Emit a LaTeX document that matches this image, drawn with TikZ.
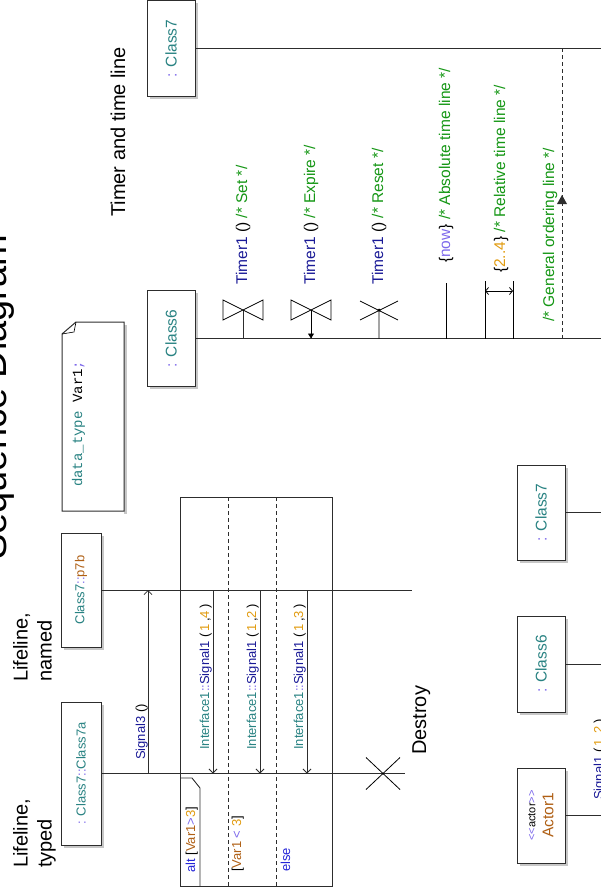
\documentclass[tikz,border=0pt]{standalone}
\usepackage{fontspec}
\setmainfont{Liberation Sans}
\setmonofont{Liberation Mono}
\usetikzlibrary{arrows.meta,shadows}
\definecolor{clsteal}{RGB}{40,130,130}
\definecolor{seppurple}{RGB}{125,105,235}
\definecolor{msgnavy}{RGB}{25,25,150}
\definecolor{cmtgreen}{RGB}{20,150,20}
\definecolor{numorange}{RGB}{225,155,15}
\definecolor{varbrown}{RGB}{175,95,20}
\definecolor{kwblue}{RGB}{35,35,215}
\definecolor{lineblack}{RGB}{45,45,45}
\newcommand{\tcls}[1]{\textcolor{clsteal}{#1}}
\newcommand{\tsep}[1]{\textcolor{seppurple}{#1}}
\newcommand{\tmsg}[1]{\textcolor{msgnavy}{#1}}
\newcommand{\tcmt}[1]{\textcolor{cmtgreen}{#1}}
\newcommand{\tnum}[1]{\textcolor{numorange}{#1}}
\newcommand{\tvar}[1]{\textcolor{varbrown}{#1}}
\newcommand{\tkw}[1]{\textcolor{kwblue}{#1}}
\newcommand{\fsbig}{\fontsize{20}{24}\selectfont}
\newcommand{\fsmid}{\fontsize{15.5}{18}\selectfont}
\newcommand{\fssmall}{\fontsize{13}{15}\selectfont}
\tikzset{
  clsbox/.style={draw=lineblack,line width=1pt,fill=white,rotate=90,minimum height=48pt,inner sep=1pt,font=\fsmid,
    drop shadow={shadow xshift=2.5pt,shadow yshift=-2.5pt,fill=black!22,opacity=1}},
  vtext/.style={rotate=90,anchor=base west,inner sep=0pt},
  life/.style={draw=lineblack,line width=1pt},
  msg/.style={draw=lineblack,line width=0.8pt,-{Straight Barb[length=4pt,width=8pt]}},
  sepline/.style={draw=lineblack,line width=0.9pt,dash pattern=on 4pt off 3pt},
}
\begin{document}
\begin{tikzpicture}[x=1pt,y=-1pt]
\useasboundingbox (0,0) rectangle (601,894);
\clip (0,0) rectangle (601,894);

\node[vtext,font=\fontsize{38}{44}\selectfont] (title) at (6,560) {Sequence Diagram};

\node[vtext,font=\fsbig] (timerlbl) at (125,217) {Timer and time line};
\node[clsbox,minimum width=96pt] (top7) at (171,48.5) {\tsep{:} \tcls{Class7}};
\node[clsbox,minimum width=96pt] (top6) at (171,338.5) {\tsep{:} \tcls{Class6}};
\coordinate (top7end) at (601,48.5);
\coordinate (top6end) at (601,338.5);
\draw[life] (top7.south) -- (top7end);
\draw[life] (top6.south) -- (top6end);

\foreach \x in {243,311} {
  \draw[life,line width=0.8pt] (\x,338.5) -- (\x,310);
  \draw[line width=0.8pt] (\x-20,300) -- (\x+20,320) -- (\x+20,300) -- (\x-20,320) -- cycle;
}
\draw[line width=0.8pt,-{Triangle[length=5pt,width=6pt]}] (311,310) -- (311,338.5);
\draw[line width=0.8pt] (379,338.5) -- (379,310) (360,301) -- (398,320) (360,320) -- (398,301);
\fill (379,310) circle (1.5);
\draw[line width=0.8pt] (446,338.5) -- (446,283);
\draw[line width=0.8pt] (485,338.5) -- (485,281) (513,338.5) -- (513,281);
\draw[line width=0.8pt,{Straight Barb[length=3pt,width=7pt]}-{Straight Barb[length=3pt,width=7pt]}] (485,291) -- (513,291);
\draw[sepline] (562,338.5) -- (562,48.5);
\fill[lineblack] (562,195) -- (567,204) -- (557,204) -- cycle;

\node[vtext,font=\fsmid] (setlbl) at (247,285) {\tmsg{Timer1} () \tcmt{/* Set */}};
\node[vtext,font=\fsmid] (explbl) at (315,285) {\tmsg{Timer1} () \tcmt{/* Expire */}};
\node[vtext,font=\fsmid] (reslbl) at (383,285) {\tmsg{Timer1} () \tcmt{/* Reset */}};
\node[vtext,font=\fsmid] (nowlbl) at (450,263) {\{\tsep{now}\} \tcmt{/* Absolute time line */}};
\node[vtext,font=\fsmid] (rellbl) at (505,273) {\{\tnum{2..4}\} \tcmt{/* Relative time line */}};
\node[vtext,font=\fsmid] (genlbl) at (554,322) {\tcmt{/* General ordering line */}};

\node[rotate=90,anchor=north west,align=left,inner sep=0pt,font=\fsbig] (typedlbl) at (13,868) {Lifeline,\\typed};
\node[rotate=90,anchor=north west,align=left,inner sep=0pt,font=\fsbig] (namedlbl) at (13,682) {Lifeline,\\named};
\node[vtext,font=\fsbig] (destlbl) at (426,755) {Destroy};

\fill[black!22] (124,325) rectangle (127,514);
\draw[life,fill=white] (62,334) -- (76,322) -- (124,322) -- (124,511) -- (62,511) -- cycle;
\draw[line width=0.6pt] (76,322) -- (74,332) -- (62,334);
\node[vtext,font=\ttfamily\fontsize{14}{16}\selectfont] (decl) at (82,487) {\tcls{data\_type} Var1\tsep{;}};

\node[clsbox,minimum width=143pt,minimum height=40pt,font=\fssmall] (cls7a) at (81,773.5) {\tsep{:} \tcls{Class7}\tsep{::}\tcls{Class7a}};
\node[clsbox,minimum width=114pt,minimum height=40pt,font=\fssmall] (p7b) at (81,590) {\tcls{Class7}\tsep{::}\tvar{p7b}};
\coordinate (c7aend) at (405,773.5);
\coordinate (p7bend) at (412,590);
\draw[life] (cls7a.south) -- (c7aend);
\draw[life] (p7b.south) -- (p7bend);
\coordinate (kill) at (383,773.5);
\draw[line width=0.8pt] (kill) +(-17,-16) -- +(17,16) (kill) +(-17,16) -- +(17,-16);

\coordinate (s3from) at (148,773.5);
\coordinate (s3to) at (148,590);
\draw[msg] (s3from) -- (s3to);
\node[vtext,font=\fssmall] (s3lbl) at (145,760) {\tmsg{Signal3} ()};

\draw[life,line width=0.9pt] (180,497) rectangle (332,886);
\draw[life,line width=0.9pt] (180,778) -- (192,778) -- (200,788) -- (200,886);
\foreach \x in {228,276} \draw[sepline] (\x,497) -- (\x,886);
\node[vtext,font=\fssmall] (altlbl) at (195,873) {\tkw{alt} [\tvar{Var1}\tsep{>}\tnum{3}]};
\node[vtext,font=\fssmall] (g2lbl) at (241,872) {[\tvar{Var1} \tsep{<} \tnum{3}]};
\node[vtext,font=\fssmall] (elselbl) at (290,872) {\tkw{else}};

\foreach \x/\k in {213/4,260/2,307/3} {
  \coordinate (ifs\k) at (\x,590);
  \coordinate (ife\k) at (\x,773.5);
  \draw[msg] (ifs\k) -- (ife\k);
  \node[vtext,font=\fssmall] (ifl\k) at (\x-4,750) {\tcls{Interface1}\tsep{::}\tmsg{Signal1} (\,\tnum{1}\,,\tnum{\k}\,)};
}

\node[clsbox,minimum width=95pt] (bot7) at (541,512.5) {\tsep{:} \tcls{Class7}};
\node[clsbox,minimum width=96pt] (bot6) at (541,664) {\tsep{:} \tcls{Class6}};
\node[clsbox,minimum width=95pt,align=center] (actor) at (541,815.5) {{\fontsize{11}{12}\selectfont\tsep{<\kern0pt<}actor\tsep{>\kern0pt>}}\\\tvar{Actor1}};
\foreach \b/\y in {bot7/512.5,bot6/664,actor/815.5} {
  \coordinate (\b-end) at (605,\y);
  \draw[life] (\b.south) -- (\b-end);
}
\node[vtext,font=\fssmall] (sig1lbl) at (603,800) {\tmsg{Signal1} (\,\tnum{1}\,,\tnum{2}\,)};
\end{tikzpicture}
\end{document}
